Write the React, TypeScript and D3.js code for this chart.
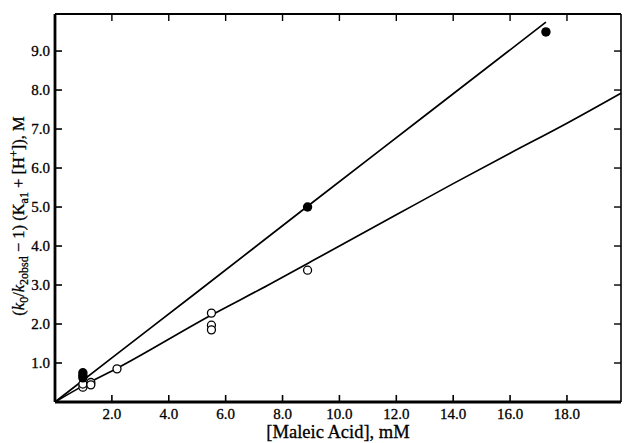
import React from 'react';
import * as d3 from 'd3';

// values
const filledPts: [number, number][] = [
  [0.98, 0.75], [0.98, 0.68], [0.98, 0.62], [8.88, 5.0], [17.26, 9.49],
];
const openPts: [number, number][] = [
  [0.98, 0.38], [0.98, 0.46], [1.26, 0.5], [1.26, 0.44], [2.18, 0.85],
  [5.5, 2.28], [5.5, 1.97], [5.5, 1.85], [8.88, 3.38],
];
const upperFit: [number, number][] = [
  [0, 0], [2, 1.13], [5, 2.82], [8.88, 5.02], [13, 7.34], [17.26, 9.74],
];
const lowerFit: [number, number][] = [
  [0, 0], [1, 0.42], [2.2, 0.87], [5.5, 2.23], [7.5, 3.0], [8.9, 3.56],
  [12, 4.8], [14, 5.6], [16, 6.38], [18, 7.15], [19.9, 7.92],
];
const xTicks = [2, 4, 6, 8, 10, 12, 14, 16, 18];
const yTicks = [1, 2, 3, 4, 5, 6, 7, 8, 9];

const left = 55, right = 621, top = 14, bottom = 402;
const font = '"Liberation Serif", "Times New Roman", serif';

export default function App() {
  const x = d3.scaleLinear().domain([0, 19.9]).range([left, right]);
  const y = d3.scaleLinear().domain([0, 9.95]).range([bottom, top]);
  const line = d3.line<[number, number]>().x((d) => x(d[0])).y((d) => y(d[1])).curve(d3.curveMonotoneX);
  const tick = 7;

  return (
    <svg width={624} height={443} style={{ position: 'absolute', left: 0, top: 0, background: '#fff' }}>
      <g fill="none" stroke="#000">
        <path d={line(upperFit) || ''} strokeWidth={1.7} />
        <path d={line(lowerFit) || ''} strokeWidth={1.7} />
      </g>

      {/* frame */}
      <line x1={left} x2={right} y1={top} y2={top} stroke="#000" strokeWidth={2} />
      <line x1={right} x2={right} y1={top} y2={bottom} stroke="#000" strokeWidth={1.6} />
      <line x1={left} x2={right} y1={bottom} y2={bottom} stroke="#000" strokeWidth={2.8} />
      <line x1={left} x2={left} y1={top} y2={bottom} stroke="#000" strokeWidth={2.8} />

      <g fontFamily={font} fontSize={15} stroke="#000" strokeWidth={0.3}>
        {xTicks.map((t) => (
          <g key={'x' + t}>
            <line x1={x(t)} x2={x(t)} y1={bottom} y2={bottom - tick} strokeWidth={1.6} />
            <line x1={x(t)} x2={x(t)} y1={top} y2={top + tick} strokeWidth={1.4} />
            <text x={x(t)} y={419} textAnchor="middle">{t.toFixed(1)}</text>
          </g>
        ))}
        {yTicks.map((t) => (
          <g key={'y' + t}>
            <line x1={left} x2={left + tick} y1={y(t)} y2={y(t)} strokeWidth={1.6} />
            <line x1={right} x2={right - tick} y1={y(t)} y2={y(t)} strokeWidth={1.4} />
            <text x={50} y={y(t) + 5} textAnchor="end">{t.toFixed(1)}</text>
          </g>
        ))}
      </g>

      {openPts.map((d, i) => (
        <circle key={'o' + i} cx={x(d[0])} cy={y(d[1])} r={4} fill="#fff" stroke="#000" strokeWidth={1.3} />
      ))}
      {filledPts.map((d, i) => (
        <circle key={'f' + i} cx={x(d[0])} cy={y(d[1])} r={4.7} fill="#000" />
      ))}

      <g fontFamily={font} stroke="#000" strokeWidth={0.3}>
        <text x={338} y={438} textAnchor="middle" fontSize={18.5}>[Maleic Acid], mM</text>
        <text transform="translate(24,216) rotate(-90)" textAnchor="middle" fontSize={16.5}>
          (<tspan fontStyle="italic">k</tspan>
          <tspan fontSize={12} dy={4}>0</tspan>
          <tspan dy={-4}>/</tspan>
          <tspan fontStyle="italic">k</tspan>
          <tspan fontSize={12} dy={4}>2obsd</tspan>
          <tspan dy={-4}> − 1) (K</tspan>
          <tspan fontSize={12} dy={4}>a1</tspan>
          <tspan dy={-4}> + [H</tspan>
          <tspan fontSize={12} dy={-6}>+</tspan>
          <tspan dy={6}>]), M</tspan>
        </text>
      </g>
    </svg>
  );
}
